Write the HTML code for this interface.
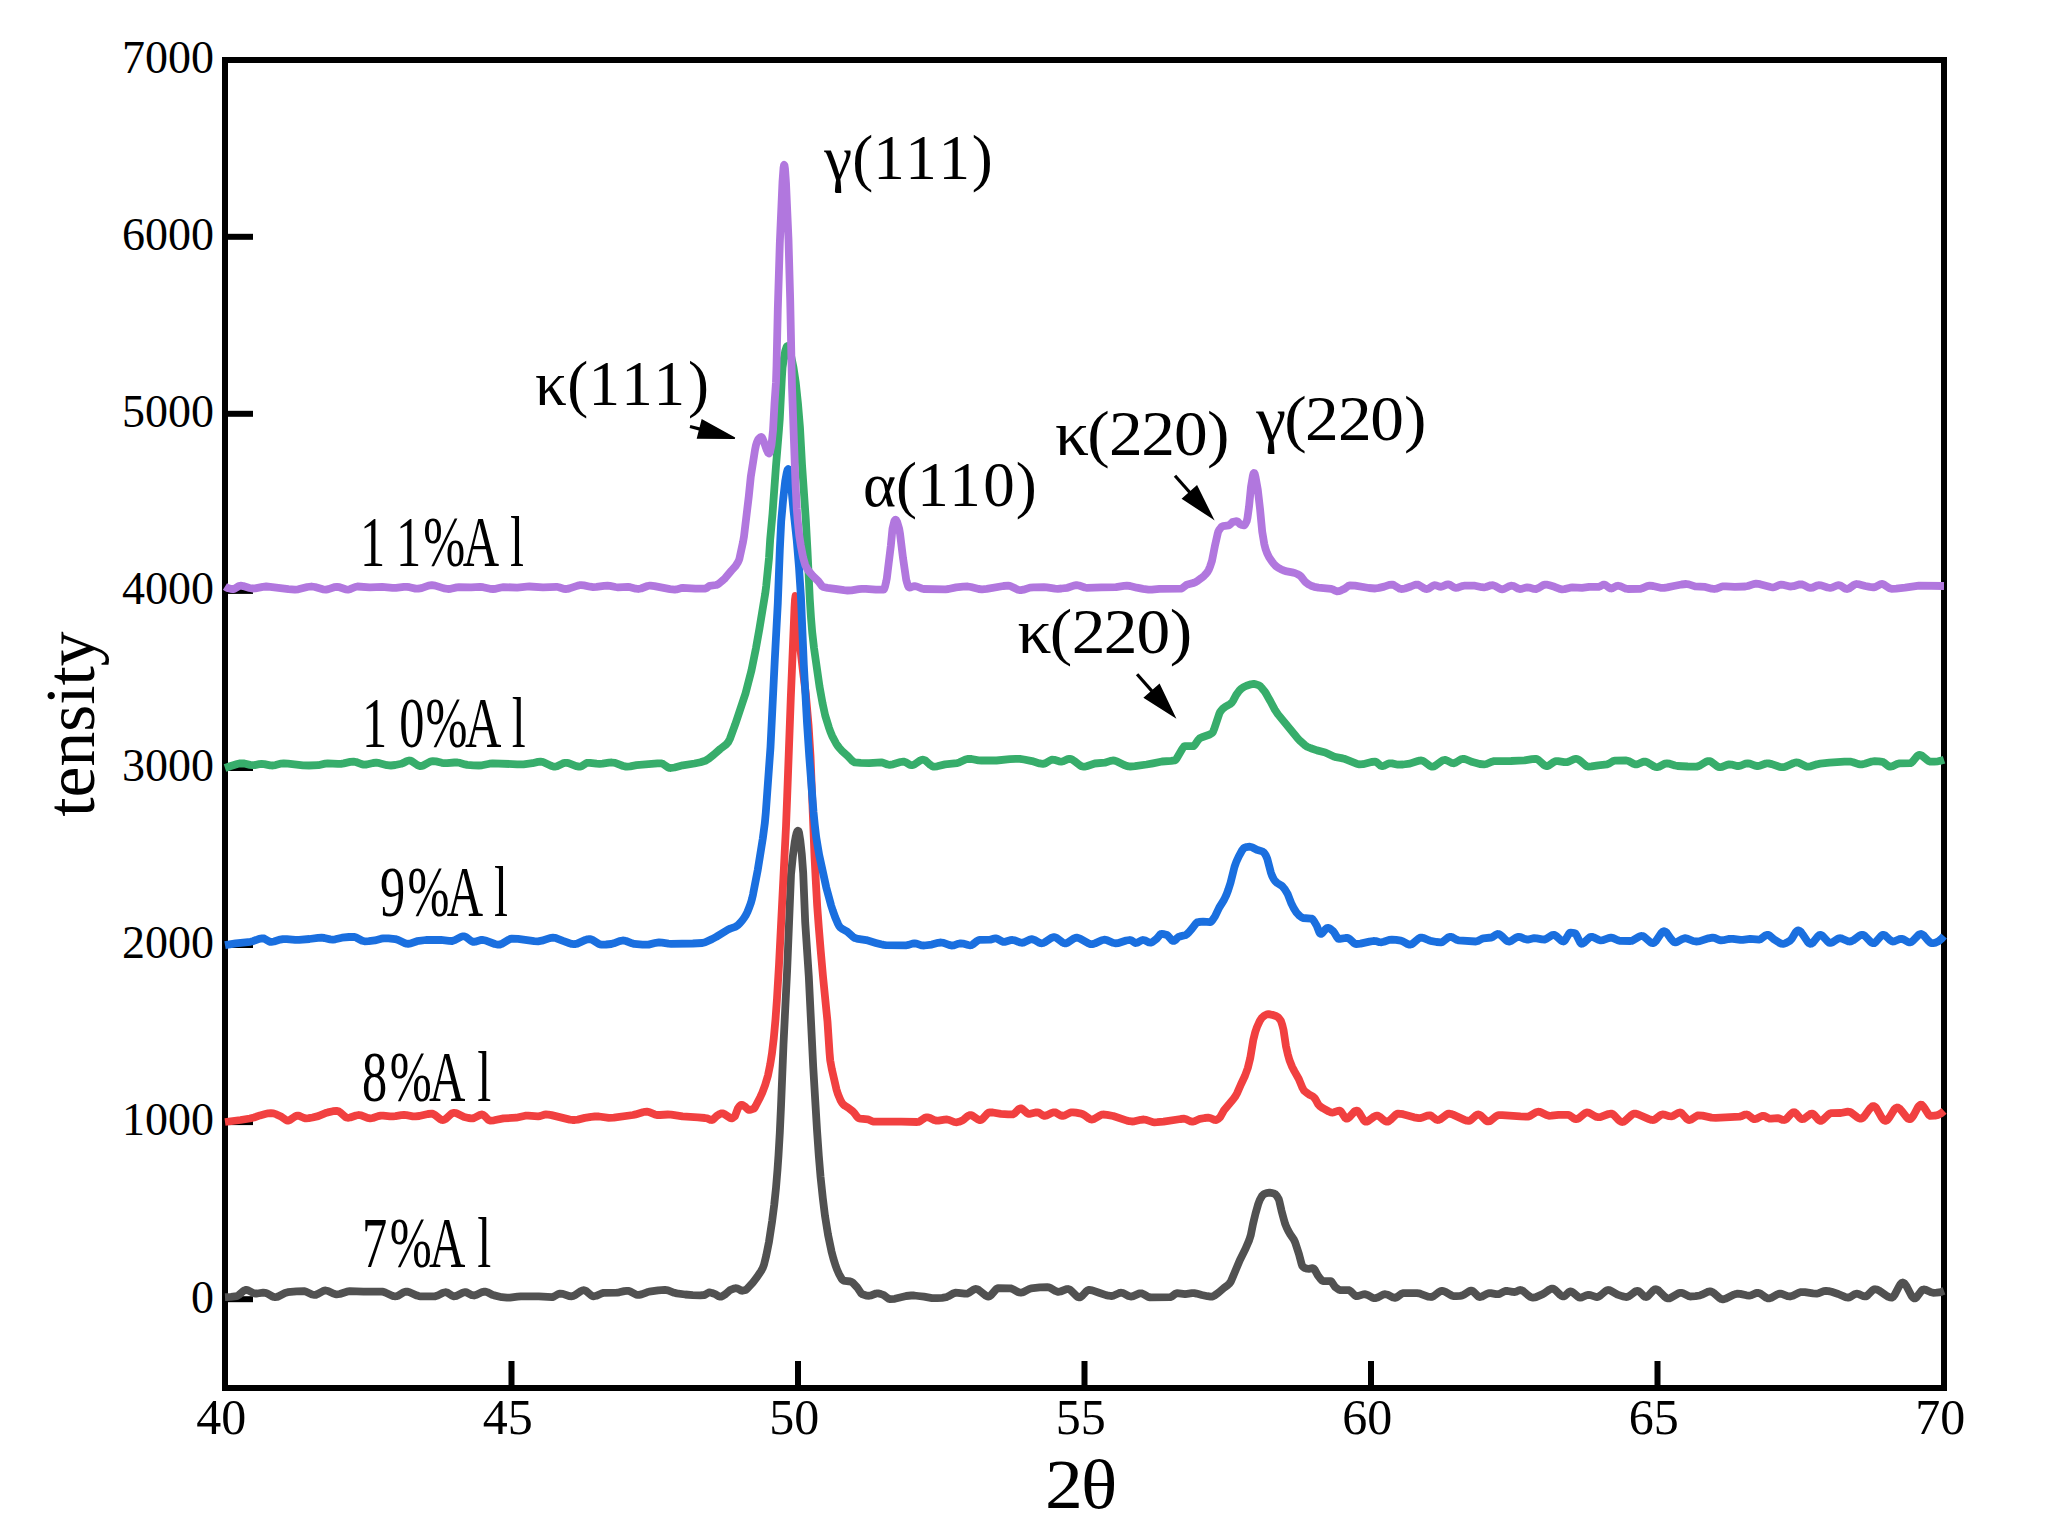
<!DOCTYPE html>
<html><head><meta charset="utf-8"><title>XRD</title>
<style>html,body{margin:0;padding:0;background:#fff}svg{display:block}</style></head>
<body>
<svg width="2059" height="1538" viewBox="0 0 2059 1538">
<rect x="0" y="0" width="2059" height="1538" fill="#ffffff"/>
<g stroke="#000" stroke-width="6" fill="none" stroke-linecap="butt">
<rect x="225" y="60" width="1719" height="1328"/>
<line x1="227" y1="1299.2" x2="253" y2="1299.2"/>
<line x1="227" y1="1122.1" x2="253" y2="1122.1"/>
<line x1="227" y1="945.0" x2="253" y2="945.0"/>
<line x1="227" y1="768.0" x2="253" y2="768.0"/>
<line x1="227" y1="590.9" x2="253" y2="590.9"/>
<line x1="227" y1="413.8" x2="253" y2="413.8"/>
<line x1="227" y1="236.8" x2="253" y2="236.8"/>
<line x1="511.5" y1="1386" x2="511.5" y2="1361"/>
<line x1="798.0" y1="1386" x2="798.0" y2="1361"/>
<line x1="1084.5" y1="1386" x2="1084.5" y2="1361"/>
<line x1="1371.0" y1="1386" x2="1371.0" y2="1361"/>
<line x1="1657.5" y1="1386" x2="1657.5" y2="1361"/>
</g>
<g font-family="'Liberation Serif', serif" fill="#000">
<g font-size="46" text-anchor="end">
<text x="213.9" y="1312.5">0</text>
<text x="213.9" y="1135.4">1000</text>
<text x="213.9" y="958.3">2000</text>
<text x="213.9" y="781.3">3000</text>
<text x="213.9" y="604.2">4000</text>
<text x="213.9" y="427.1">5000</text>
<text x="213.9" y="250.1">6000</text>
<text x="213.9" y="73.0">7000</text>
</g>
<g font-size="50" text-anchor="middle">
<text x="221.3" y="1434">40</text>
<text x="507.8" y="1434">45</text>
<text x="794.3" y="1434">50</text>
<text x="1080.8" y="1434">55</text>
<text x="1367.3" y="1434">60</text>
<text x="1653.8" y="1434">65</text>
<text x="1940.3" y="1434">70</text>
</g>
<text transform="translate(0,1507.5) scale(1.090,1)" font-size="69.5" x="958.7 991.8">2θ</text>
<text transform="translate(93.9,816.7) rotate(-90)" font-size="69.5">tensity</text>
</g>
<g fill="none" stroke-width="7.8" stroke-linejoin="round" stroke-linecap="butt">
<path stroke="#515151" d="M225.0,1297.2 231.0,1296.9 236.8,1296.2 238.8,1295.0 243.5,1290.9 244.8,1290.2 246.0,1289.9 248.2,1290.4 253.0,1292.9 255.0,1293.5 257.2,1293.5 263.2,1292.7 265.5,1292.9 267.5,1293.7 272.5,1296.5 274.0,1297.0 275.2,1297.2 276.8,1297.0 278.2,1296.5 285.0,1293.0 287.8,1292.2 296.5,1291.3 303.8,1291.1 306.2,1291.8 312.0,1294.5 314.5,1294.9 315.8,1294.8 317.2,1294.2 323.0,1291.1 324.2,1290.6 325.5,1290.5 328.0,1291.0 333.8,1293.7 335.2,1294.2 336.5,1294.4 339.8,1294.0 346.8,1291.7 350.0,1291.1 363.5,1291.6 382.0,1291.6 383.5,1291.9 385.2,1292.5 392.2,1295.7 393.8,1296.2 395.2,1296.3 396.5,1296.2 397.8,1295.8 403.5,1292.4 405.0,1291.8 406.2,1291.6 407.8,1291.7 409.5,1292.2 417.0,1295.6 418.8,1296.1 420.5,1296.3 435.2,1296.3 437.5,1295.6 443.0,1292.7 445.5,1292.2 446.5,1292.3 447.5,1292.7 451.8,1295.6 453.8,1296.3 455.0,1296.2 456.2,1295.9 462.2,1292.9 463.8,1292.3 465.0,1292.2 466.0,1292.2 467.2,1292.7 472.0,1295.2 474.0,1295.5 476.5,1294.8 482.2,1292.1 483.8,1291.7 485.0,1291.6 487.5,1292.2 492.2,1294.7 494.2,1295.4 501.8,1297.2 507.0,1297.7 510.0,1297.6 517.5,1296.6 520.8,1296.3 538.8,1296.4 552.0,1297.2 554.0,1296.5 558.2,1294.0 560.0,1293.6 562.8,1293.9 569.0,1296.0 571.8,1296.3 573.2,1295.9 574.8,1295.2 581.0,1291.0 582.2,1290.5 583.5,1290.2 584.5,1290.3 585.8,1290.8 591.2,1295.4 592.5,1296.1 593.8,1296.3 596.2,1295.8 601.5,1293.5 603.8,1292.8 617.0,1292.7 619.2,1292.3 624.2,1291.1 626.8,1290.8 628.2,1290.9 629.8,1291.3 636.2,1294.6 637.8,1294.9 639.0,1294.9 641.5,1294.4 647.0,1292.3 649.2,1291.6 658.2,1290.3 664.8,1289.9 668.0,1290.4 674.2,1292.8 676.8,1293.4 685.2,1294.5 692.8,1295.1 700.2,1295.3 704.2,1295.0 705.5,1294.5 708.2,1292.8 709.0,1292.5 710.0,1292.5 712.0,1293.0 715.2,1294.2 718.8,1296.3 720.2,1296.7 721.2,1296.6 722.2,1296.2 725.5,1294.1 730.0,1290.1 733.8,1288.6 735.5,1288.2 737.0,1288.3 738.2,1288.8 740.8,1290.4 742.2,1290.8 744.5,1290.3 745.8,1289.8 746.8,1289.2 748.2,1287.7 752.8,1282.6 757.0,1277.1 761.2,1270.8 762.8,1267.8 764.0,1264.6 766.2,1255.7 769.0,1241.7 772.2,1220.6 774.2,1205.0 776.0,1187.8 777.5,1169.7 778.5,1155.3 779.8,1132.7 781.0,1106.2 783.5,1044.1 787.2,968.8 791.0,874.7 792.8,856.7 794.8,841.6 795.8,836.3 796.5,833.4 797.2,831.5 798.0,830.8 798.5,831.1 799.0,832.5 800.2,839.8 801.8,854.3 803.2,872.9 805.2,922.3 808.8,976.6 813.2,1066.6 817.0,1130.0 818.8,1155.7 820.5,1176.3 822.8,1198.2 825.0,1215.9 828.0,1234.6 831.5,1251.4 833.5,1259.0 835.5,1265.4 837.0,1269.5 839.2,1274.4 841.5,1278.5 842.5,1279.8 843.2,1280.4 845.0,1280.9 850.5,1281.5 851.5,1281.9 852.8,1282.8 857.0,1287.2 861.0,1293.2 861.8,1293.9 862.5,1294.3 866.2,1295.5 869.2,1295.8 871.2,1295.4 876.0,1293.5 877.2,1293.3 878.8,1293.4 880.8,1294.0 883.8,1295.2 888.2,1298.5 890.0,1299.2 894.8,1298.8 906.2,1296.0 911.2,1295.5 914.2,1295.5 918.2,1296.0 924.0,1296.7 932.0,1298.1 937.0,1298.2 942.2,1297.8 946.2,1297.2 948.2,1296.3 953.2,1293.5 955.5,1292.7 958.2,1292.8 964.8,1293.7 967.0,1293.7 969.0,1292.8 973.8,1289.6 975.0,1289.1 976.0,1289.0 977.5,1289.3 979.0,1290.2 985.8,1295.6 987.2,1296.4 988.5,1296.6 989.5,1296.3 990.8,1295.4 995.8,1289.6 997.0,1288.6 998.0,1288.2 1010.5,1288.3 1012.8,1289.1 1018.0,1292.0 1019.5,1292.5 1020.8,1292.7 1022.0,1292.5 1023.5,1292.0 1029.0,1289.1 1031.2,1288.3 1039.8,1287.4 1047.2,1287.1 1048.5,1287.3 1049.8,1287.7 1055.2,1290.9 1057.8,1291.8 1059.0,1291.8 1060.5,1291.5 1066.5,1289.2 1068.0,1289.0 1069.0,1289.2 1070.0,1289.7 1071.2,1290.7 1076.5,1296.1 1077.8,1297.0 1079.0,1297.4 1080.0,1297.3 1081.2,1296.6 1082.5,1295.5 1086.5,1291.1 1087.8,1290.2 1089.0,1289.9 1092.2,1290.4 1099.0,1292.8 1106.0,1295.1 1108.5,1295.7 1110.8,1296.0 1112.0,1296.0 1113.2,1295.7 1118.8,1293.2 1120.0,1292.8 1121.2,1292.7 1123.2,1293.1 1128.5,1296.0 1130.8,1296.6 1132.0,1296.4 1133.2,1296.1 1138.8,1293.6 1140.0,1293.3 1141.2,1293.3 1143.5,1294.1 1148.2,1296.9 1150.2,1297.4 1170.2,1297.2 1172.0,1296.4 1175.5,1293.7 1177.0,1293.2 1185.2,1294.2 1192.0,1293.2 1194.2,1293.2 1196.5,1293.6 1201.8,1295.0 1207.5,1296.2 1210.5,1296.6 1212.5,1296.5 1214.5,1295.5 1218.5,1292.6 1224.0,1287.9 1227.8,1285.1 1229.5,1283.4 1230.8,1281.6 1232.2,1278.4 1239.8,1260.2 1245.5,1248.8 1249.2,1240.1 1250.8,1235.0 1253.0,1224.0 1255.5,1213.6 1258.2,1204.1 1259.8,1199.9 1262.0,1196.0 1263.8,1194.1 1266.5,1193.1 1269.5,1192.7 1272.5,1193.1 1274.5,1193.8 1275.2,1194.2 1277.0,1196.2 1278.8,1199.3 1279.5,1201.8 1281.5,1210.7 1283.8,1219.2 1285.2,1224.1 1286.5,1227.2 1288.2,1230.7 1290.2,1234.2 1293.8,1239.5 1295.2,1242.5 1299.0,1254.2 1301.5,1263.7 1302.2,1265.8 1302.8,1266.7 1305.0,1268.1 1307.0,1268.7 1308.8,1268.8 1312.5,1268.2 1313.5,1268.3 1314.8,1269.8 1317.8,1275.4 1320.5,1279.0 1322.0,1280.5 1323.0,1281.0 1330.8,1281.1 1332.0,1282.3 1335.0,1286.8 1338.5,1289.5 1340.2,1290.1 1348.5,1290.1 1349.2,1290.3 1351.0,1291.5 1354.8,1295.4 1355.8,1296.0 1356.5,1296.2 1358.5,1295.9 1363.2,1294.4 1365.2,1294.2 1367.5,1294.9 1372.8,1297.8 1374.0,1298.1 1375.2,1298.2 1377.5,1297.6 1383.0,1294.6 1385.2,1294.2 1387.8,1294.8 1393.0,1297.4 1395.2,1297.8 1397.0,1297.2 1401.0,1294.1 1402.8,1293.2 1417.0,1293.1 1418.8,1293.3 1420.5,1293.8 1428.0,1296.6 1431.0,1297.0 1432.2,1296.8 1433.8,1296.0 1439.5,1291.7 1440.8,1291.1 1442.0,1290.9 1443.5,1291.1 1445.0,1291.6 1450.5,1294.9 1452.2,1295.7 1454.0,1296.1 1456.2,1296.1 1460.2,1295.8 1462.5,1295.4 1464.2,1294.5 1468.8,1291.4 1470.0,1290.8 1471.2,1290.6 1472.2,1290.8 1473.5,1291.7 1478.0,1296.3 1479.0,1296.9 1480.0,1297.0 1482.0,1296.5 1486.8,1293.9 1488.8,1293.2 1490.8,1293.2 1496.0,1294.1 1498.2,1294.2 1500.0,1293.7 1503.8,1291.6 1505.5,1291.0 1507.8,1291.0 1512.5,1291.8 1514.8,1292.0 1516.0,1291.7 1519.0,1290.3 1520.2,1290.0 1521.8,1290.4 1523.2,1291.1 1528.5,1295.6 1530.2,1296.8 1531.8,1297.4 1533.0,1297.6 1534.8,1297.4 1536.5,1296.9 1542.8,1294.1 1544.5,1293.1 1549.5,1289.5 1551.0,1288.9 1552.2,1288.6 1553.5,1288.9 1555.0,1289.8 1560.2,1294.9 1561.5,1295.8 1562.5,1296.3 1563.8,1296.4 1564.8,1296.0 1568.8,1292.2 1569.8,1291.6 1570.8,1291.4 1571.8,1291.7 1573.0,1292.5 1578.0,1296.8 1579.2,1297.4 1580.2,1297.6 1582.0,1297.3 1586.5,1295.2 1588.5,1294.8 1590.5,1295.1 1595.8,1296.9 1597.0,1297.0 1598.0,1296.9 1600.2,1295.6 1605.5,1291.1 1607.0,1290.3 1608.2,1290.0 1609.5,1290.2 1611.0,1290.8 1617.5,1294.6 1622.8,1296.4 1626.0,1297.0 1627.2,1296.9 1628.5,1296.4 1630.0,1295.5 1634.8,1291.8 1636.2,1291.1 1637.8,1290.9 1638.8,1291.2 1639.8,1292.0 1644.0,1296.2 1645.0,1296.8 1646.0,1297.0 1647.0,1296.7 1648.2,1295.9 1653.5,1290.2 1654.8,1289.4 1655.8,1289.2 1657.0,1289.5 1658.5,1290.4 1665.0,1296.9 1666.5,1298.0 1668.0,1298.4 1669.5,1298.3 1671.0,1297.7 1677.5,1293.8 1679.0,1293.1 1680.5,1292.8 1681.8,1292.9 1683.0,1293.3 1689.0,1296.2 1690.2,1296.5 1692.0,1296.4 1695.5,1296.1 1699.8,1295.5 1701.8,1294.7 1707.5,1291.9 1709.2,1291.5 1710.8,1291.5 1712.0,1291.9 1713.5,1292.8 1719.8,1298.2 1721.2,1299.0 1722.8,1299.3 1724.2,1299.1 1726.0,1298.6 1734.0,1294.6 1735.8,1294.0 1737.5,1293.7 1740.2,1293.9 1746.5,1295.3 1749.2,1295.6 1751.2,1295.2 1756.0,1293.1 1757.2,1292.8 1758.2,1292.9 1759.5,1293.3 1760.8,1293.9 1766.2,1297.7 1767.8,1298.3 1769.0,1298.4 1771.2,1297.8 1776.8,1294.6 1779.2,1293.7 1780.5,1293.7 1781.8,1293.9 1787.5,1296.1 1790.0,1296.5 1792.8,1295.8 1798.8,1292.8 1801.2,1292.1 1804.8,1292.1 1813.0,1293.4 1816.5,1293.7 1818.8,1293.2 1823.8,1291.2 1826.0,1290.9 1828.5,1291.1 1831.5,1291.8 1838.2,1294.0 1845.0,1296.9 1846.8,1297.4 1848.2,1297.6 1849.2,1297.4 1850.2,1297.1 1854.5,1294.3 1856.5,1293.7 1858.8,1294.1 1863.5,1296.2 1864.8,1296.4 1865.8,1296.4 1866.8,1295.9 1867.8,1295.1 1872.8,1290.1 1874.0,1289.4 1875.0,1289.2 1877.0,1289.6 1879.0,1290.5 1885.8,1295.2 1888.0,1296.6 1890.0,1297.4 1891.8,1297.6 1893.0,1296.9 1894.5,1295.1 1899.0,1286.5 1900.5,1284.1 1901.8,1282.9 1902.8,1282.5 1904.0,1283.0 1905.2,1284.3 1906.8,1286.7 1911.5,1295.8 1913.0,1297.7 1914.2,1298.4 1915.2,1298.3 1916.5,1297.3 1921.2,1291.1 1922.2,1290.1 1923.2,1289.6 1924.2,1289.5 1925.8,1289.9 1931.0,1292.3 1933.2,1292.8 1936.5,1292.7 1939.2,1292.4 1941.8,1291.7 1944.0,1290.9"/>
<path stroke="#f14040" d="M225.0,1122.0 240.5,1120.0 249.8,1118.5 254.0,1117.5 260.0,1115.4 265.2,1114.0 268.2,1113.3 270.8,1113.1 273.5,1113.4 276.5,1114.4 281.5,1116.8 286.2,1120.2 287.2,1120.5 288.2,1120.6 290.2,1119.8 294.8,1116.6 297.0,1115.6 298.0,1115.6 299.2,1115.9 303.5,1117.8 305.0,1118.3 306.2,1118.4 308.8,1118.2 312.5,1117.5 318.2,1116.1 325.5,1113.1 327.8,1112.4 333.0,1111.2 336.5,1110.8 337.8,1111.0 339.0,1111.6 340.5,1112.7 345.0,1116.7 346.5,1117.5 347.8,1117.8 350.2,1117.5 356.0,1115.5 358.8,1115.0 361.2,1115.4 367.5,1117.9 370.2,1118.4 372.8,1118.0 378.2,1116.1 380.8,1115.6 383.2,1115.6 390.0,1116.3 393.0,1116.4 395.5,1116.2 401.2,1115.2 404.0,1115.0 406.5,1115.2 412.8,1116.3 415.5,1116.4 419.2,1116.0 428.0,1114.0 431.8,1113.6 433.0,1113.9 434.5,1114.7 440.5,1119.3 441.8,1119.9 443.0,1120.0 444.2,1119.7 445.8,1118.8 451.5,1113.7 452.8,1113.0 454.0,1112.8 455.5,1113.0 457.0,1113.5 464.2,1117.0 468.5,1118.0 471.2,1118.3 472.5,1118.4 473.8,1118.1 479.8,1115.0 481.0,1114.6 482.2,1114.5 483.2,1114.9 484.2,1115.6 488.5,1119.9 489.5,1120.5 490.2,1120.6 494.0,1120.3 503.5,1118.4 516.2,1117.7 525.2,1115.7 528.2,1115.6 538.0,1116.4 540.0,1116.1 544.2,1114.7 546.0,1114.5 548.5,1114.6 551.5,1115.1 569.8,1119.6 572.5,1120.0 574.8,1120.0 577.8,1119.6 584.8,1117.9 591.2,1116.8 594.8,1116.5 599.0,1116.5 608.8,1117.8 613.8,1117.6 633.0,1115.0 635.5,1114.4 642.8,1112.2 644.8,1111.8 646.8,1111.7 649.2,1112.1 654.8,1114.4 657.0,1115.0 660.0,1115.0 667.8,1114.5 671.2,1114.6 682.5,1116.4 698.0,1117.3 704.8,1118.0 707.2,1118.4 710.5,1119.8 711.8,1120.0 712.5,1119.8 713.2,1119.4 716.8,1115.9 720.0,1113.9 721.8,1113.3 722.8,1113.4 724.0,1113.9 730.5,1118.1 731.8,1118.3 733.0,1117.8 735.0,1116.2 737.8,1108.6 739.8,1105.8 741.0,1104.9 742.0,1104.9 743.5,1105.6 745.2,1106.8 747.5,1109.1 748.5,1109.8 749.5,1109.9 751.0,1109.7 753.8,1108.7 754.5,1107.9 755.5,1106.2 760.2,1097.2 762.2,1092.9 765.2,1084.9 768.0,1075.3 770.2,1064.5 772.0,1053.1 773.8,1038.0 775.5,1019.4 777.0,998.5 779.0,965.1 786.0,826.6 787.2,796.0 790.8,697.7 794.5,608.2 795.0,599.5 795.5,596.0 796.0,597.8 796.5,602.6 798.2,628.4 799.0,636.8 802.8,669.7 805.8,694.1 808.5,724.6 810.5,756.0 814.5,855.9 815.8,881.0 817.2,906.1 818.8,927.5 820.8,951.8 823.0,976.5 827.5,1021.7 829.5,1052.2 830.2,1060.4 831.8,1069.1 836.5,1089.5 838.0,1094.3 840.5,1100.3 842.0,1102.9 843.2,1104.4 845.0,1105.8 848.5,1108.0 852.8,1111.4 854.5,1113.2 857.2,1117.0 858.5,1118.2 860.5,1118.6 867.8,1119.3 872.2,1121.3 873.8,1121.7 901.2,1121.7 917.2,1122.0 918.5,1121.8 919.8,1121.3 925.0,1117.8 926.2,1117.4 927.2,1117.3 929.5,1117.8 934.0,1120.0 936.0,1120.6 938.5,1120.6 944.5,1119.7 947.0,1119.5 949.2,1120.0 954.2,1122.0 956.8,1122.3 959.0,1121.8 962.5,1120.4 964.0,1119.3 967.8,1116.1 969.0,1115.4 970.0,1115.1 971.2,1115.2 972.5,1115.7 978.2,1119.6 979.5,1120.0 980.8,1120.0 981.8,1119.5 982.8,1118.7 987.5,1113.4 988.5,1112.7 989.5,1112.3 992.8,1112.5 1000.8,1113.9 1008.2,1114.4 1012.8,1114.4 1014.5,1113.4 1018.8,1109.1 1019.8,1108.5 1020.5,1108.4 1021.5,1108.5 1022.5,1109.1 1026.5,1112.7 1028.2,1113.8 1030.2,1113.8 1035.5,1112.5 1037.8,1112.3 1039.2,1112.9 1042.8,1115.4 1044.2,1115.9 1046.5,1115.4 1051.5,1112.9 1053.8,1112.3 1054.8,1112.3 1055.8,1112.6 1060.5,1115.4 1062.5,1115.9 1064.8,1115.4 1069.2,1113.1 1071.0,1112.4 1072.8,1112.3 1076.0,1112.6 1079.8,1113.3 1083.0,1114.3 1084.8,1115.4 1089.0,1118.5 1090.2,1119.2 1091.5,1119.5 1092.8,1119.4 1094.0,1119.0 1100.2,1115.3 1101.8,1114.7 1103.0,1114.5 1107.0,1114.8 1113.2,1116.0 1127.0,1120.6 1129.5,1121.2 1131.8,1121.5 1134.5,1121.3 1140.8,1119.8 1143.8,1119.5 1146.2,1119.9 1152.8,1122.1 1154.5,1122.3 1157.2,1122.2 1163.5,1121.6 1180.8,1119.0 1184.2,1118.7 1186.2,1119.2 1190.8,1121.4 1192.5,1121.7 1194.5,1121.3 1200.0,1118.8 1204.8,1118.0 1208.2,1117.7 1210.2,1118.0 1214.5,1119.9 1216.2,1120.0 1218.0,1119.1 1220.2,1117.1 1223.8,1110.6 1233.2,1099.3 1235.5,1096.1 1237.0,1093.4 1241.0,1084.2 1245.0,1075.8 1247.8,1068.0 1250.2,1058.3 1253.2,1040.3 1255.2,1032.3 1257.0,1027.0 1259.8,1020.8 1261.8,1017.8 1263.5,1016.3 1265.5,1015.0 1267.0,1014.4 1268.5,1014.2 1272.2,1014.8 1276.5,1016.3 1277.8,1017.1 1279.0,1018.3 1281.0,1021.1 1282.2,1024.8 1283.5,1029.9 1286.0,1046.4 1287.8,1054.2 1289.5,1060.3 1292.2,1067.0 1294.5,1071.4 1298.8,1079.0 1302.5,1087.9 1303.5,1089.7 1304.2,1090.7 1307.0,1093.0 1309.5,1094.7 1312.8,1096.4 1314.2,1097.6 1315.5,1099.4 1318.2,1104.4 1320.0,1106.3 1322.8,1108.2 1328.8,1111.5 1331.0,1112.4 1332.8,1112.6 1334.2,1112.2 1338.0,1110.8 1339.8,1110.6 1340.5,1111.1 1341.2,1111.9 1345.0,1117.7 1345.8,1118.4 1346.5,1118.7 1347.8,1118.4 1349.0,1117.5 1354.5,1111.5 1355.8,1110.8 1357.0,1110.6 1358.0,1111.2 1359.0,1112.4 1363.8,1120.3 1364.8,1121.3 1365.5,1121.7 1366.8,1121.6 1368.0,1121.1 1374.2,1116.5 1375.8,1115.8 1377.0,1115.6 1378.2,1115.9 1379.5,1116.6 1383.8,1120.2 1385.2,1121.2 1386.5,1121.7 1387.8,1121.6 1389.0,1121.1 1390.2,1120.1 1395.8,1114.6 1397.0,1113.9 1398.2,1113.6 1400.5,1113.8 1403.0,1114.2 1414.0,1117.3 1418.8,1118.1 1420.2,1118.1 1421.5,1117.8 1427.2,1115.7 1429.8,1115.3 1430.8,1115.6 1431.8,1116.2 1436.0,1119.5 1437.8,1120.0 1439.0,1119.8 1440.5,1119.1 1446.8,1114.3 1448.2,1113.7 1449.8,1113.7 1451.2,1114.0 1453.0,1114.6 1465.0,1120.1 1466.8,1120.7 1468.5,1120.9 1469.8,1120.6 1471.0,1119.9 1476.2,1115.2 1477.5,1114.6 1478.5,1114.5 1479.5,1114.7 1480.8,1115.5 1486.0,1120.6 1487.2,1121.3 1488.2,1121.4 1489.5,1121.2 1490.8,1120.5 1496.0,1116.3 1497.2,1115.6 1498.5,1115.1 1502.2,1115.1 1520.5,1116.4 1527.5,1116.7 1528.8,1116.4 1530.0,1115.9 1536.0,1112.2 1538.2,1111.7 1539.5,1111.8 1540.8,1112.2 1546.5,1115.1 1549.0,1115.8 1551.5,1115.7 1558.5,1114.8 1568.2,1114.8 1570.0,1115.6 1574.0,1118.5 1575.0,1119.0 1576.0,1119.2 1577.2,1119.0 1578.5,1118.4 1584.2,1113.7 1585.5,1112.9 1586.8,1112.5 1588.0,1112.6 1589.5,1113.0 1595.5,1116.5 1597.0,1117.0 1598.2,1117.2 1599.8,1117.1 1601.5,1116.7 1608.5,1114.0 1611.2,1113.6 1612.5,1114.0 1614.0,1115.1 1618.2,1119.7 1619.8,1121.0 1621.0,1121.7 1622.2,1122.0 1623.5,1121.7 1625.0,1120.9 1631.5,1115.0 1633.0,1114.0 1634.5,1113.6 1636.0,1113.7 1637.8,1114.2 1649.0,1119.1 1651.0,1119.8 1652.5,1120.0 1653.8,1119.9 1655.0,1119.4 1659.8,1115.6 1661.8,1114.6 1662.8,1114.5 1664.0,1114.6 1669.2,1116.2 1671.5,1116.4 1673.5,1115.7 1678.0,1113.0 1680.0,1112.5 1681.0,1112.8 1682.0,1113.5 1686.8,1118.8 1688.0,1119.7 1689.0,1120.0 1690.0,1119.9 1691.2,1119.5 1696.2,1116.2 1697.5,1115.6 1698.5,1115.3 1702.5,1115.6 1711.5,1117.6 1715.8,1117.8 1739.5,1116.7 1741.0,1116.3 1744.8,1114.7 1746.5,1114.5 1748.2,1115.0 1752.5,1118.3 1753.5,1118.9 1754.5,1119.2 1756.5,1118.8 1761.0,1116.4 1762.2,1116.0 1763.2,1115.9 1764.8,1116.2 1768.0,1118.0 1769.5,1118.6 1771.2,1118.6 1777.5,1118.1 1779.0,1118.4 1782.5,1119.8 1784.0,1120.0 1785.2,1119.7 1786.5,1118.9 1790.5,1114.4 1792.0,1113.0 1793.0,1112.4 1794.0,1112.2 1794.8,1112.4 1795.8,1113.1 1800.0,1118.0 1801.0,1118.8 1802.0,1119.2 1803.2,1119.0 1804.5,1118.5 1808.8,1115.1 1810.2,1114.1 1811.5,1113.7 1812.5,1113.7 1813.2,1114.0 1814.2,1114.9 1818.5,1119.9 1819.5,1120.6 1820.5,1120.9 1821.8,1120.6 1823.0,1119.8 1828.2,1114.7 1829.5,1113.8 1830.5,1113.3 1831.5,1113.1 1840.8,1113.0 1847.8,1111.7 1849.5,1111.8 1851.2,1112.6 1856.8,1116.9 1858.5,1118.0 1860.0,1118.5 1861.5,1118.6 1862.8,1117.9 1864.2,1116.4 1869.0,1109.7 1870.8,1107.6 1872.2,1106.4 1873.5,1106.1 1874.2,1106.3 1875.0,1106.7 1876.5,1108.4 1881.2,1116.7 1883.0,1119.3 1884.2,1120.4 1885.5,1120.9 1886.8,1120.4 1888.0,1119.3 1889.5,1117.2 1894.2,1109.6 1895.8,1108.0 1897.0,1107.5 1898.2,1107.7 1899.8,1108.7 1901.5,1110.7 1906.5,1117.2 1908.0,1118.6 1909.5,1119.2 1910.8,1118.9 1912.2,1117.4 1913.8,1115.0 1918.0,1107.2 1919.2,1105.6 1920.5,1104.7 1921.0,1104.7 1921.8,1104.9 1923.0,1106.0 1924.2,1107.7 1928.0,1113.7 1929.2,1115.2 1930.2,1115.8 1934.8,1115.7 1938.2,1114.9 1941.2,1113.3 1944.0,1110.8"/>
<path stroke="#1a6fdf" d="M225.0,945.2 235.8,943.3 250.5,941.8 253.0,941.2 259.2,938.8 262.2,938.3 263.2,938.3 264.2,938.6 269.0,941.3 270.2,941.8 271.2,941.9 274.0,941.5 280.2,939.6 283.0,939.1 286.8,939.2 295.2,939.9 299.2,939.9 309.5,939.0 318.0,937.9 321.5,937.7 324.2,938.0 330.2,939.4 332.8,939.7 335.2,939.3 342.0,937.7 349.0,937.0 353.8,936.9 355.0,937.1 356.5,937.7 362.2,940.8 364.5,941.3 368.8,941.1 374.8,940.4 381.2,938.7 383.5,938.3 388.5,938.4 395.2,939.1 398.2,940.0 405.0,943.3 406.5,943.7 408.0,943.8 410.8,943.4 417.0,941.2 426.0,940.0 440.8,939.9 449.0,940.9 452.0,941.0 454.8,940.1 461.0,936.9 462.5,936.4 463.8,936.3 464.8,936.5 466.0,937.0 470.8,940.8 472.8,941.8 473.8,941.9 475.2,941.7 480.8,940.0 483.0,940.0 486.5,940.8 494.8,944.0 498.2,944.7 500.0,944.5 501.8,943.9 508.8,939.7 510.5,938.9 512.0,938.6 518.0,938.9 534.2,941.1 538.0,941.3 541.8,940.7 549.8,938.1 553.0,937.7 554.8,937.8 556.5,938.3 563.0,940.9 569.5,943.2 571.8,943.9 573.8,944.1 575.5,944.0 577.2,943.6 585.5,939.9 587.5,939.3 589.2,939.1 590.5,939.2 592.0,939.7 598.8,943.8 600.2,944.4 601.8,944.7 606.0,944.5 611.2,944.0 613.8,943.3 619.5,941.1 622.8,940.5 624.2,940.6 626.0,941.0 632.0,943.3 634.2,943.9 642.5,944.6 648.5,944.6 656.0,942.8 659.0,942.4 662.0,942.6 668.5,943.6 671.2,943.8 692.8,943.5 702.2,943.0 705.2,942.2 712.0,939.1 716.2,936.9 728.2,929.5 730.2,928.6 735.2,926.9 737.8,925.3 739.8,923.3 742.2,920.5 744.2,917.8 746.0,914.9 747.5,911.8 749.2,907.5 750.8,903.2 752.0,898.9 753.0,894.6 757.8,869.7 762.8,838.5 764.8,823.3 765.8,812.5 770.5,747.1 774.8,659.4 777.8,603.2 779.8,550.1 781.2,521.1 783.2,499.0 785.2,481.3 786.8,472.5 787.5,470.0 788.2,469.1 788.8,469.6 789.5,472.6 790.8,481.9 793.5,510.3 796.8,540.9 799.0,567.3 801.0,598.0 803.8,664.6 807.0,722.7 809.2,755.7 813.5,812.1 814.8,825.2 816.2,837.2 817.8,846.9 819.2,855.1 826.2,887.2 831.0,905.1 832.8,910.6 835.2,917.4 838.0,923.9 839.2,926.1 840.2,927.4 842.2,928.9 847.2,931.7 852.8,936.7 855.0,938.1 858.0,938.9 866.2,940.1 875.8,942.9 881.0,944.3 883.8,944.9 886.0,945.1 906.5,945.3 908.5,944.9 912.5,943.6 914.5,943.3 916.5,943.6 921.5,945.4 924.2,945.5 931.8,944.6 938.2,942.8 941.0,942.5 943.5,942.9 949.0,944.9 951.5,945.5 953.8,945.4 958.5,943.7 960.5,943.3 963.0,943.6 968.2,945.0 970.5,945.3 971.5,945.1 972.8,944.4 977.2,940.9 979.2,939.8 990.2,939.7 994.2,938.5 995.5,938.3 997.5,938.8 1001.5,941.2 1003.2,941.9 1005.2,941.8 1010.2,940.2 1012.5,940.0 1014.8,940.4 1019.8,942.4 1021.8,942.8 1023.0,942.7 1024.2,942.3 1030.0,939.5 1031.2,939.2 1032.2,939.2 1034.5,939.9 1039.5,942.8 1040.8,943.2 1041.8,943.3 1043.2,943.0 1044.8,942.3 1051.2,938.0 1052.8,937.4 1054.0,937.2 1055.2,937.4 1056.5,937.9 1062.2,942.2 1063.5,942.9 1064.8,943.3 1066.0,943.3 1067.5,942.8 1073.8,938.6 1075.2,937.9 1076.8,937.7 1078.5,938.0 1080.5,938.8 1088.5,943.4 1090.2,944.0 1092.0,944.2 1093.5,943.9 1095.0,943.4 1101.8,940.2 1104.2,939.7 1106.8,940.1 1112.8,942.8 1115.2,943.3 1118.5,943.0 1126.2,940.5 1129.8,940.0 1131.2,940.3 1134.5,942.5 1135.8,943.0 1137.5,942.7 1141.2,940.5 1143.0,940.0 1144.8,940.3 1149.0,942.4 1150.8,942.6 1152.8,941.8 1156.5,938.9 1160.0,934.7 1160.8,934.1 1161.5,933.9 1164.0,934.2 1167.0,935.1 1168.2,936.1 1172.0,940.3 1173.0,940.9 1174.0,940.9 1175.2,940.2 1177.5,937.8 1178.5,937.0 1180.2,936.4 1184.8,935.3 1186.0,934.8 1187.0,934.1 1188.5,932.7 1192.2,928.4 1195.8,923.7 1197.2,922.4 1199.0,922.0 1203.2,921.7 1210.2,922.1 1211.0,921.8 1212.0,920.8 1215.0,916.4 1219.2,907.6 1224.0,899.9 1226.2,895.3 1228.2,890.0 1230.5,882.9 1234.5,866.9 1236.5,861.3 1238.8,856.3 1242.0,850.5 1243.8,848.2 1244.5,847.7 1246.5,847.1 1249.8,846.7 1252.0,847.2 1256.8,849.7 1262.2,851.4 1263.5,852.2 1264.5,853.3 1265.8,855.4 1267.2,858.6 1270.8,872.3 1272.2,876.1 1273.8,879.2 1274.8,880.8 1275.8,881.8 1277.2,883.0 1281.5,885.6 1283.0,887.1 1284.8,889.3 1287.8,894.3 1291.5,903.8 1294.0,908.7 1296.5,912.6 1299.5,915.7 1301.5,917.3 1303.0,918.0 1311.0,918.6 1311.8,918.7 1312.5,919.2 1314.0,921.1 1316.8,925.9 1319.2,932.1 1320.0,933.4 1320.5,933.8 1321.2,933.8 1322.2,933.2 1325.5,929.3 1326.8,928.2 1327.8,927.8 1328.8,928.0 1330.5,928.9 1333.2,931.2 1334.2,932.6 1337.0,937.3 1338.2,938.7 1338.8,938.9 1339.8,938.9 1345.5,938.0 1347.8,938.0 1348.8,938.5 1349.8,939.2 1354.0,943.1 1355.0,943.7 1356.0,944.0 1360.5,943.6 1369.5,941.6 1373.5,941.0 1375.8,941.1 1379.5,942.2 1381.5,942.3 1383.8,941.8 1389.2,939.9 1392.0,939.6 1396.0,939.8 1400.8,940.6 1402.8,941.4 1407.5,944.0 1409.0,944.5 1410.2,944.6 1411.5,944.2 1412.8,943.5 1418.5,938.6 1419.8,937.9 1421.0,937.6 1422.2,937.7 1423.8,938.1 1428.8,940.3 1430.5,940.9 1436.5,942.0 1440.8,942.4 1441.8,942.2 1442.8,941.7 1448.0,937.6 1449.2,937.0 1450.2,936.8 1451.2,936.9 1452.5,937.3 1456.8,939.8 1458.5,940.4 1475.8,941.5 1477.8,941.0 1481.8,938.9 1483.2,938.3 1491.5,937.5 1492.8,936.9 1496.0,934.6 1497.8,934.0 1499.0,934.2 1500.2,934.9 1501.8,936.1 1506.0,940.2 1507.5,941.2 1508.8,941.5 1509.8,941.5 1511.0,941.0 1516.2,937.6 1517.5,937.0 1518.5,936.8 1520.5,937.1 1525.0,939.1 1526.8,939.6 1528.5,939.5 1532.5,938.4 1534.2,938.2 1536.8,938.4 1542.0,939.4 1544.5,939.5 1546.8,938.6 1551.5,935.5 1552.8,935.0 1553.8,934.8 1555.0,935.2 1556.2,936.0 1561.5,940.8 1562.5,941.3 1563.5,941.5 1564.2,941.2 1565.2,940.1 1569.0,933.6 1569.8,932.9 1570.5,932.6 1574.5,933.1 1575.5,933.7 1576.8,935.7 1579.8,941.9 1580.8,943.3 1581.5,943.8 1582.5,943.6 1583.8,942.9 1588.8,938.1 1590.0,937.2 1591.0,936.8 1592.2,936.9 1593.5,937.2 1598.5,939.8 1600.8,940.4 1603.0,940.2 1608.5,938.1 1611.0,937.6 1613.2,938.1 1617.8,940.2 1619.8,940.9 1630.5,941.0 1631.8,940.8 1633.2,940.2 1639.2,936.6 1640.5,936.1 1641.8,936.0 1643.0,936.2 1644.5,937.1 1650.5,942.4 1651.8,943.0 1653.0,943.2 1654.2,942.7 1655.8,941.2 1661.5,932.8 1662.8,931.6 1664.0,931.2 1665.2,931.6 1666.8,932.9 1671.2,939.2 1672.8,941.0 1674.0,942.0 1675.2,942.4 1677.2,941.9 1682.5,938.9 1684.8,938.2 1687.2,938.6 1693.2,941.0 1696.0,941.5 1699.8,941.1 1708.5,938.3 1712.5,937.6 1714.5,937.9 1719.0,939.9 1721.0,940.4 1723.2,940.2 1728.5,939.0 1730.8,938.8 1733.0,938.9 1740.5,939.9 1742.8,939.8 1750.2,938.8 1759.2,939.6 1760.2,939.3 1761.2,938.7 1765.5,935.4 1766.5,935.0 1767.5,934.8 1768.5,935.1 1769.5,935.6 1773.8,939.2 1779.0,942.6 1781.2,943.6 1783.2,943.8 1784.8,943.5 1786.2,942.9 1790.2,940.6 1791.8,938.7 1795.8,932.1 1797.0,930.8 1798.0,930.4 1799.2,930.7 1800.8,931.9 1802.5,934.2 1807.5,941.7 1809.0,943.2 1810.5,943.8 1811.5,943.6 1812.8,942.7 1818.0,936.2 1819.2,935.2 1820.2,934.8 1821.2,935.0 1822.5,935.8 1827.8,941.7 1829.0,942.6 1830.2,942.9 1832.2,942.4 1837.5,938.9 1838.8,938.4 1839.8,938.2 1841.0,938.3 1842.2,938.7 1848.0,941.3 1849.5,941.5 1850.8,941.4 1853.2,940.3 1859.2,935.8 1860.8,935.1 1862.2,934.8 1863.5,935.1 1864.8,935.9 1870.5,941.8 1871.8,942.7 1873.0,943.2 1874.2,943.1 1875.5,942.3 1880.8,936.2 1882.0,935.2 1883.2,934.8 1884.2,935.0 1885.5,935.7 1890.2,940.2 1892.2,941.4 1893.2,941.5 1894.5,941.3 1899.2,939.2 1901.5,938.8 1903.5,939.3 1908.0,942.0 1909.0,942.3 1910.0,942.4 1911.2,942.0 1912.8,940.9 1918.5,935.0 1919.8,934.3 1921.0,934.0 1922.2,934.4 1923.8,935.5 1928.2,940.7 1930.0,942.4 1931.2,943.1 1932.8,943.2 1935.8,942.6 1938.5,941.3 1941.2,939.1 1944.0,936.0"/>
<path stroke="#37ad6b" d="M225.0,768.0 230.0,766.3 237.2,764.1 239.5,763.5 241.5,763.3 244.2,763.5 250.0,764.9 252.5,765.2 254.5,765.1 259.2,764.1 261.5,763.9 264.2,764.1 270.2,765.4 273.0,765.5 275.5,765.1 281.2,763.6 283.8,763.3 288.0,763.6 303.0,765.4 309.0,765.5 318.2,765.2 325.2,763.6 327.8,763.3 338.0,763.8 341.0,763.8 343.8,763.4 350.2,761.9 353.5,761.6 356.0,762.0 361.5,764.1 363.8,764.6 366.5,764.5 373.2,763.0 376.2,762.7 379.5,763.2 387.0,765.2 390.8,765.5 395.2,765.0 401.2,763.8 402.8,763.2 407.0,761.0 409.2,760.5 410.5,760.7 411.8,761.2 417.5,765.1 419.0,765.8 420.2,766.1 421.8,765.9 423.2,765.5 429.8,761.9 431.2,761.3 432.8,761.1 436.0,761.4 441.8,762.8 444.2,763.2 447.2,763.2 454.5,762.5 457.5,762.5 460.0,762.9 465.0,764.4 467.2,764.9 473.5,765.4 478.8,765.5 482.0,765.3 489.5,763.7 492.8,763.3 517.2,764.3 523.5,764.3 532.5,763.2 538.0,761.9 540.5,761.6 542.0,761.8 543.5,762.2 551.0,765.8 552.8,766.4 554.2,766.6 555.5,766.6 557.0,766.2 562.8,763.4 565.2,762.8 566.8,762.8 568.5,763.1 576.2,766.1 578.0,766.5 579.8,766.6 581.5,766.2 585.8,763.4 587.5,762.8 590.0,762.8 596.5,763.7 599.5,763.9 602.5,763.6 609.0,762.6 611.8,762.5 615.0,762.9 623.2,766.0 625.2,766.5 627.0,766.6 630.2,766.4 636.5,765.2 639.5,764.8 657.5,763.4 661.0,763.3 662.0,763.5 663.2,764.1 668.2,767.5 669.5,767.9 670.8,768.0 674.5,767.5 682.8,765.3 694.5,763.5 700.5,762.3 705.2,760.8 708.8,758.6 713.8,754.7 720.2,749.0 726.0,744.6 728.2,742.1 730.0,738.7 735.2,724.4 745.5,693.4 751.5,670.3 756.0,647.9 759.5,628.2 765.2,593.7 766.2,585.9 769.0,558.1 770.2,539.3 772.5,514.1 776.0,465.8 779.0,429.2 779.8,418.4 781.8,378.7 782.5,367.7 783.8,358.9 785.2,351.1 786.5,347.1 787.0,346.3 787.5,346.0 788.0,346.2 788.5,346.9 789.8,350.3 791.2,356.5 793.5,367.6 795.8,382.9 798.0,404.0 800.0,427.9 802.0,464.5 805.8,519.4 807.5,551.0 809.8,599.1 811.0,617.8 812.2,632.3 814.0,648.0 819.5,686.5 822.5,703.1 825.2,715.5 828.8,727.2 830.5,732.0 832.2,736.1 836.0,743.3 837.8,746.0 839.5,748.2 842.2,751.1 847.8,756.1 852.0,760.6 853.5,761.8 854.8,762.4 860.8,762.9 869.2,763.1 881.2,762.3 883.2,762.8 887.5,764.5 889.5,764.8 893.0,764.3 900.5,762.0 903.5,761.6 905.5,762.2 910.0,764.9 911.8,765.2 913.0,765.0 914.5,764.4 920.5,760.3 921.8,759.8 923.0,759.7 924.2,760.0 925.8,760.8 930.2,764.8 931.8,765.9 933.0,766.5 934.2,766.6 937.2,766.3 945.0,764.4 957.0,763.2 959.5,762.3 965.5,759.5 968.5,758.8 971.5,759.0 978.5,760.3 981.5,760.5 996.5,760.5 1009.8,759.2 1015.8,758.9 1019.8,758.9 1024.0,759.5 1032.0,761.1 1039.5,763.4 1043.0,763.9 1044.0,763.7 1045.2,763.3 1050.0,760.5 1052.0,759.7 1054.2,759.8 1059.0,761.3 1061.2,761.6 1063.2,761.2 1067.8,759.1 1069.5,758.8 1071.0,759.1 1072.5,759.8 1074.2,760.9 1079.8,765.3 1081.5,766.2 1083.0,766.6 1084.5,766.6 1086.5,766.2 1094.8,763.5 1104.8,762.7 1110.5,760.9 1112.8,760.5 1114.8,760.7 1117.0,761.4 1124.2,765.0 1126.5,765.9 1128.5,766.4 1130.2,766.5 1135.0,766.2 1146.5,764.5 1153.0,763.3 1162.0,761.5 1171.2,760.9 1174.5,760.4 1175.5,759.9 1176.5,758.7 1182.5,748.5 1184.0,746.5 1184.8,746.2 1192.8,746.2 1193.5,746.1 1195.0,744.7 1198.2,739.9 1199.8,738.3 1202.0,737.2 1209.8,734.5 1212.2,733.0 1213.0,731.9 1214.0,729.4 1219.2,713.9 1220.2,711.8 1221.5,710.1 1223.2,708.3 1225.5,706.6 1230.0,704.1 1231.8,702.7 1233.0,700.9 1236.2,694.9 1239.2,690.8 1241.2,688.7 1243.8,687.0 1246.5,685.8 1251.0,684.3 1253.8,683.9 1256.0,684.3 1259.0,685.4 1260.5,686.5 1262.2,688.4 1264.5,691.2 1266.0,693.5 1270.5,701.5 1274.8,709.6 1277.8,714.1 1296.8,737.3 1300.0,740.8 1305.0,745.2 1307.2,746.7 1310.8,748.3 1317.0,750.4 1325.2,752.5 1333.8,756.6 1336.0,757.2 1341.5,758.1 1344.0,758.7 1356.5,763.7 1359.5,764.4 1363.0,764.2 1371.5,762.0 1375.2,761.6 1376.8,762.3 1380.5,765.6 1381.5,766.0 1382.2,766.1 1384.0,765.7 1388.0,763.8 1389.8,763.3 1392.0,763.4 1398.0,764.7 1403.0,764.5 1409.8,763.6 1417.8,761.0 1419.5,760.6 1421.2,760.5 1422.5,760.8 1424.0,761.5 1430.0,766.0 1431.2,766.5 1432.5,766.6 1433.8,766.4 1435.0,765.8 1441.5,761.1 1443.0,760.3 1444.5,760.0 1445.5,760.0 1446.8,760.4 1451.5,762.9 1453.5,763.3 1455.8,762.5 1461.0,759.3 1462.5,758.9 1463.8,758.9 1466.2,759.5 1472.5,762.1 1479.8,764.0 1484.0,764.4 1486.5,764.0 1492.0,761.7 1494.2,761.1 1511.0,761.0 1519.0,760.7 1524.5,760.4 1532.0,759.1 1535.5,758.8 1536.8,759.1 1538.0,759.7 1544.0,765.0 1545.5,765.8 1546.8,766.1 1547.8,765.9 1549.0,765.4 1553.8,762.0 1555.8,761.1 1558.0,761.1 1564.2,762.1 1566.8,762.2 1569.0,761.5 1573.8,759.3 1576.0,758.8 1577.2,759.0 1578.8,759.7 1580.5,761.1 1585.5,765.4 1587.0,766.3 1588.5,766.6 1591.5,766.4 1598.2,765.3 1607.0,764.4 1608.8,763.7 1612.8,761.2 1614.5,760.6 1626.2,760.5 1628.5,761.0 1633.5,763.7 1635.8,764.4 1636.8,764.4 1638.0,764.0 1643.0,761.9 1644.2,761.6 1645.5,761.7 1648.0,762.7 1654.0,766.4 1655.5,767.0 1657.0,767.2 1659.0,766.8 1664.2,764.0 1665.5,763.5 1666.8,763.3 1669.5,763.7 1675.0,765.5 1677.5,766.0 1687.8,766.5 1696.8,766.6 1698.0,766.3 1699.5,765.7 1706.0,761.7 1707.5,761.2 1708.8,761.1 1709.8,761.2 1711.0,761.7 1717.0,766.2 1718.5,766.9 1719.8,767.2 1722.0,766.9 1727.0,764.9 1729.2,764.4 1731.5,764.6 1736.8,766.0 1739.0,766.0 1741.0,765.5 1745.5,763.7 1747.8,763.3 1749.8,763.6 1755.0,765.6 1757.5,766.1 1760.0,765.7 1765.8,763.5 1767.0,763.3 1768.5,763.4 1771.8,764.1 1779.5,766.8 1781.5,767.1 1783.2,767.2 1784.8,766.9 1786.5,766.3 1793.5,763.1 1795.0,762.6 1796.5,762.5 1797.8,762.6 1799.2,763.0 1805.8,766.3 1807.0,766.6 1808.2,766.6 1810.8,766.3 1817.0,764.3 1820.2,763.7 1829.5,762.7 1844.5,761.7 1851.0,761.7 1853.0,762.2 1858.5,764.1 1860.2,764.4 1861.8,764.4 1864.8,763.8 1871.8,761.5 1874.8,761.1 1878.8,761.3 1882.5,761.8 1884.0,762.6 1888.2,766.0 1889.2,766.5 1890.2,766.6 1892.5,766.2 1897.0,764.0 1899.0,763.4 1910.5,763.2 1911.5,762.6 1912.5,761.7 1917.2,756.1 1918.2,755.3 1919.2,754.9 1920.5,755.1 1922.0,755.7 1927.5,760.3 1928.8,761.1 1930.0,761.5 1934.2,761.6 1938.0,761.3 1941.2,760.6 1944.0,759.7"/>
<path stroke="#b177de" d="M225.0,586.5 226.8,587.6 228.5,588.3 230.5,588.8 232.5,589.0 233.8,589.0 234.5,588.8 238.8,586.1 240.5,585.7 243.2,586.1 249.5,588.0 252.2,588.5 255.2,588.3 262.8,586.8 266.2,586.5 270.2,586.9 288.5,589.2 294.8,589.6 298.2,589.3 307.2,587.0 311.5,586.5 315.0,587.0 322.8,589.3 326.0,589.6 328.5,589.1 334.2,587.2 337.0,586.8 339.5,587.2 345.5,589.3 348.0,589.6 350.0,589.2 355.2,587.0 357.5,586.5 369.8,587.4 382.2,586.8 392.5,587.9 396.0,587.8 403.8,586.9 407.0,586.8 409.5,587.2 415.5,588.6 418.2,588.7 421.5,588.1 428.5,585.6 431.8,585.1 435.2,585.6 444.0,588.4 448.0,589.0 450.8,588.8 456.8,587.4 459.2,587.1 471.0,587.4 480.0,586.8 483.0,587.2 490.0,588.8 493.2,589.0 495.8,588.8 501.0,587.5 503.5,587.1 517.2,587.6 526.8,586.7 529.5,586.5 543.0,587.4 556.5,586.8 558.8,587.3 563.5,588.8 565.8,589.0 567.5,588.9 569.5,588.4 577.8,585.6 579.5,585.2 581.2,585.1 584.0,585.4 590.2,586.7 593.0,587.1 596.5,586.9 604.0,585.9 607.5,585.7 610.0,585.9 615.5,587.0 618.0,587.3 627.8,586.8 630.2,587.2 635.8,588.7 638.2,589.0 641.0,588.5 647.5,586.0 649.0,585.7 650.5,585.7 654.5,586.2 670.0,589.2 674.8,589.6 676.5,589.4 680.8,588.2 682.8,587.9 695.5,588.6 705.5,588.6 706.5,588.1 709.5,585.8 716.2,585.0 717.8,584.4 719.2,583.4 723.2,580.0 725.0,578.3 731.5,570.5 735.5,566.1 738.0,562.2 739.0,560.0 739.5,558.3 743.0,542.1 744.0,536.4 748.8,496.3 750.8,476.6 755.0,450.0 756.0,445.1 757.0,442.0 758.0,439.7 758.8,438.7 760.5,437.2 761.2,437.0 761.8,437.2 762.5,438.4 764.2,442.7 766.8,450.1 768.2,452.9 769.0,453.5 769.5,453.0 770.0,451.6 771.5,444.8 773.0,430.7 774.5,403.8 776.0,382.2 776.5,366.7 777.8,309.4 779.8,243.3 782.5,181.5 783.5,168.0 784.0,165.2 784.2,164.9 784.5,165.5 785.0,168.9 786.0,183.0 788.5,239.7 790.2,300.1 792.0,386.8 795.5,483.7 796.8,509.0 797.8,521.5 799.2,535.2 800.8,545.4 803.2,557.9 805.2,564.9 807.0,568.5 809.2,571.7 813.0,576.0 818.5,581.4 822.0,586.1 823.2,587.0 827.5,587.9 835.2,588.8 844.0,590.2 847.5,590.5 851.5,590.3 858.8,589.1 861.8,588.8 865.8,588.9 875.8,589.6 883.8,589.6 884.2,588.9 885.0,586.7 886.2,581.5 886.8,578.5 890.8,546.0 892.5,528.6 894.2,521.6 895.0,520.0 895.5,519.7 896.2,520.2 897.2,522.1 899.2,528.8 900.0,533.6 903.0,557.9 906.2,579.7 906.8,582.0 908.0,585.8 908.8,587.2 909.2,587.6 910.5,587.4 913.2,586.3 914.5,586.1 916.8,586.5 921.5,588.4 923.8,589.0 945.5,589.3 948.5,589.0 956.0,587.4 963.0,586.7 967.8,586.5 971.0,587.0 978.8,589.0 982.0,589.3 986.8,588.9 1003.5,586.0 1008.2,585.7 1009.8,585.9 1011.2,586.4 1018.0,589.7 1019.5,590.1 1020.8,590.2 1023.5,589.7 1030.0,587.6 1033.5,587.3 1043.8,587.1 1046.8,587.4 1055.0,588.7 1057.8,588.8 1061.5,588.5 1067.5,587.8 1073.8,585.6 1076.5,585.1 1079.0,585.5 1084.8,587.5 1087.2,587.9 1101.2,587.4 1116.0,587.1 1124.0,585.9 1126.8,585.7 1130.0,586.0 1136.8,587.7 1143.0,588.9 1148.5,589.6 1151.8,589.6 1159.5,588.8 1181.0,588.7 1182.5,588.0 1186.8,584.7 1188.5,584.2 1193.8,582.9 1195.5,582.2 1197.2,581.2 1201.2,578.2 1204.0,575.9 1206.0,573.8 1207.8,571.5 1208.8,569.6 1210.0,566.8 1212.0,560.7 1214.8,546.4 1217.8,533.2 1218.2,531.8 1219.2,529.9 1221.2,527.2 1222.0,526.5 1223.0,526.1 1228.8,525.3 1229.8,524.7 1232.5,522.1 1236.0,521.2 1237.5,521.3 1240.0,524.2 1241.8,525.0 1244.0,525.4 1244.5,525.1 1245.2,524.2 1246.8,521.0 1247.5,517.7 1249.0,506.8 1251.0,486.9 1252.8,476.1 1253.5,473.5 1254.0,473.0 1254.2,473.1 1254.8,474.1 1255.5,477.0 1257.8,489.8 1260.0,508.6 1262.2,531.7 1264.2,543.7 1265.5,548.9 1267.0,553.0 1269.0,557.1 1271.5,560.9 1273.8,563.9 1275.8,566.0 1278.0,567.6 1280.8,569.2 1283.2,570.3 1285.5,571.1 1292.2,572.4 1294.8,573.0 1297.2,574.0 1299.5,575.2 1301.0,576.5 1305.2,581.8 1308.5,584.3 1311.0,585.7 1314.2,586.8 1318.5,587.6 1331.2,588.8 1332.5,589.3 1335.8,590.9 1337.0,591.3 1339.0,591.2 1341.2,590.3 1344.8,588.6 1348.2,586.0 1349.8,585.4 1355.0,585.7 1369.0,588.0 1375.2,588.5 1379.0,587.9 1384.2,586.6 1389.2,584.9 1391.8,584.6 1392.8,584.7 1394.0,585.2 1399.0,588.3 1400.2,588.8 1401.2,589.0 1403.0,588.9 1405.0,588.5 1410.8,586.5 1414.5,585.0 1416.2,584.6 1417.5,584.6 1418.8,585.0 1424.2,588.4 1425.5,588.9 1426.8,589.0 1428.8,588.4 1432.5,586.0 1434.2,585.2 1436.0,585.3 1439.5,586.6 1441.0,586.8 1442.8,586.3 1446.5,584.6 1448.2,584.3 1449.2,584.5 1450.2,584.9 1454.2,587.5 1456.0,587.9 1457.8,587.7 1462.0,586.1 1464.0,585.7 1475.0,585.7 1481.8,587.2 1484.0,587.4 1486.0,587.0 1490.8,585.3 1492.8,585.2 1495.0,585.9 1499.8,588.7 1501.0,589.2 1502.0,589.3 1504.2,588.9 1509.2,586.3 1510.5,585.9 1511.8,585.7 1513.8,586.1 1518.0,588.5 1519.8,589.0 1521.5,588.9 1525.5,587.6 1527.2,587.4 1529.2,587.6 1534.0,588.9 1536.0,589.0 1538.2,588.2 1543.2,585.1 1545.2,584.6 1547.2,584.7 1549.5,585.3 1554.5,586.8 1559.8,588.9 1562.0,589.3 1564.5,589.1 1570.2,587.7 1572.5,587.4 1582.0,587.9 1589.2,586.8 1598.8,586.8 1600.0,586.4 1602.8,584.9 1604.0,584.6 1605.5,585.0 1609.0,587.7 1610.5,588.4 1611.2,588.5 1612.2,588.2 1616.2,586.1 1618.0,585.7 1620.5,586.3 1625.8,588.7 1627.8,589.0 1640.0,588.9 1642.2,588.3 1647.2,586.2 1649.8,585.7 1653.0,586.0 1660.5,587.8 1664.2,587.9 1667.2,587.4 1673.8,586.0 1681.5,584.5 1686.2,584.0 1688.8,584.4 1695.0,586.4 1705.2,586.9 1711.8,588.7 1714.2,589.0 1716.5,588.7 1721.2,586.8 1723.2,586.3 1726.0,586.3 1734.8,586.8 1745.2,586.5 1747.8,586.0 1753.5,584.1 1756.0,583.7 1760.0,584.2 1770.5,587.0 1772.8,587.4 1774.8,587.0 1779.2,585.0 1781.2,584.6 1783.8,584.9 1789.0,586.3 1791.2,586.5 1793.5,586.2 1799.0,584.5 1801.5,584.3 1803.5,584.9 1808.2,587.4 1810.5,587.9 1812.5,587.6 1816.8,585.6 1818.5,585.2 1821.2,585.4 1827.5,587.5 1830.2,587.9 1832.2,587.5 1836.8,585.5 1838.8,585.1 1840.8,585.8 1845.2,588.6 1847.0,589.0 1849.0,588.5 1854.2,584.8 1855.5,584.2 1856.5,584.0 1859.5,584.4 1865.2,586.0 1869.8,586.9 1873.5,587.4 1875.5,586.9 1880.2,584.3 1881.2,584.1 1882.2,584.0 1883.2,584.3 1884.5,584.9 1889.5,588.2 1891.5,588.8 1896.2,588.6 1905.0,587.7 1919.0,585.7 1944.0,586.0"/>
</g>
<g font-family="'Liberation Serif', serif" fill="#000">
<text y="178.8" font-size="63.0" x="824.3 852.2 873.3 905.3 938.4 971.8">γ(111)</text>
<text y="404.9" font-size="63.0" x="535.0 567.2 588.4 621.3 653.4 687.9">κ(111)</text>
<text y="505.9" font-size="63.0" x="863.0 895.9 917.2 949.3 983.2 1015.8">α(110)</text>
<text transform="translate(0,454.7) scale(1.070,1)" font-size="63.0" x="985.9 1016.1 1036.5 1066.5 1097.2 1128.1">κ(220)</text>
<text transform="translate(0,439.6) scale(1.070,1)" font-size="63.0" x="1174.0 1200.3 1219.7 1250.5 1280.6 1312.1">γ(220)</text>
<text transform="translate(0,653.0) scale(1.070,1)" font-size="63.0" x="950.9 981.2 1001.6 1031.5 1062.2 1093.2">κ(220)</text>
<text transform="translate(0,566.0) scale(0.710,1)" font-size="71.0" x="507.1 557.9 596.3 651.7 718.2">11%Al</text>
<text transform="translate(0,747.2) scale(0.710,1)" font-size="71.0" x="509.7 562.4 599.4 655.1 720.8">10%Al</text>
<text transform="translate(0,916.0) scale(0.710,1)" font-size="71.0" x="535.2 573.8 629.3 695.8">9%Al</text>
<text transform="translate(0,1101.0) scale(0.710,1)" font-size="71.0" x="509.7 549.1 604.1 672.1">8%Al</text>
<text transform="translate(0,1267.1) scale(0.710,1)" font-size="71.0" x="510.0 549.1 604.1 672.1">7%Al</text>
</g>
<line x1="690.0" y1="426.5" x2="701.9" y2="429.6" stroke="#000" stroke-width="3.2"/><polygon fill="#000" stroke="#000" stroke-width="1.6" stroke-linejoin="miter" points="734.8,438.1 697.7,437.9 702.2,420.3"/>
<line x1="1175.0" y1="475.8" x2="1191.2" y2="494.0" stroke="#000" stroke-width="3.2"/><polygon fill="#000" stroke="#000" stroke-width="1.6" stroke-linejoin="miter" points="1212.6,518.1 1182.9,498.7 1196.8,486.4"/>
<line x1="1137.1" y1="674.2" x2="1153.3" y2="692.6" stroke="#000" stroke-width="3.2"/><polygon fill="#000" stroke="#000" stroke-width="1.6" stroke-linejoin="miter" points="1174.5,716.6 1144.7,697.6 1159.3,684.7"/>
</svg>
</body></html>
